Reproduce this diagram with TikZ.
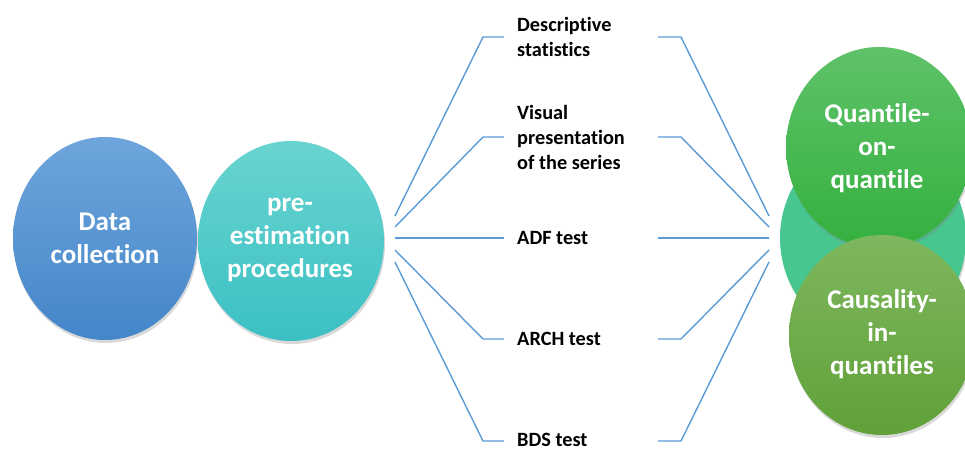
\documentclass[tikz,border=0pt]{standalone}
\usepackage{fontspec}
\setmainfont{Carlito}[Ligatures={NoCommon,NoDiscretionary,NoContextual}]
\usetikzlibrary{shapes.geometric,shadows}
\definecolor{lineblue}{HTML}{5B9BD5}
\definecolor{dcTop}{HTML}{6EA5DC}
\definecolor{dcBot}{HTML}{4486C9}
\definecolor{peTop}{HTML}{68D4D0}
\definecolor{peBot}{HTML}{3CC0C4}
\definecolor{midG}{HTML}{47C68F}
\definecolor{qTop}{HTML}{5FC269}
\definecolor{qBot}{HTML}{34B03E}
\definecolor{cTop}{HTML}{7EB75E}
\definecolor{cBot}{HTML}{60A138}
\tikzset{
  blob/.style={ellipse, inner sep=0pt, text=white, align=center,
    font=\bfseries\fontsize{27}{33}\selectfont,
    drop shadow={opacity=0.3, shadow xshift=1pt, shadow yshift=-3pt}},
  blobtext/.style={text=white, align=center, inner sep=0pt,
    font=\bfseries\fontsize{27}{33}\selectfont},
  lbl/.style={anchor=west, inner sep=0pt, align=left,
    font=\bfseries\fontsize{20.3}{25}\selectfont},
  conn/.style={draw=lineblue, line width=1.4pt}
}
\begin{document}
\begin{tikzpicture}[x=1pt,y=-1pt]
\useasboundingbox (0,0) rectangle (965,449);
\clip (0,0) rectangle (965,449);
% left ellipses
\node[blob, minimum width=184pt, minimum height=203pt, top color=dcTop, bottom color=dcBot] (dc) at (105,238.5) {};
\node[blob, minimum width=186pt, minimum height=200pt, top color=peTop, bottom color=peBot] (pe) at (291,241) {};
\node[blobtext] (dct) at (105,238.5) {Data\\collection};
\node[blobtext] (pet) at (290,240) {pre-\\estimation\\procedures};
% right ellipses
\node[blob, minimum width=186pt, minimum height=200pt, fill=midG] (mid) at (873,238) {};
\node[blob, minimum width=186pt, minimum height=201pt, top color=qTop, bottom color=qBot] (qq) at (879,147.5) {};
\node[blobtext] (qqt) at (877,148) {Quantile-\\on-\\quantile};
\node[blob, minimum width=186pt, minimum height=200pt, top color=cTop, bottom color=cBot] (cq) at (882,335) {};
\node[blobtext] (cqt) at (882,334) {Causality-\\in-\\quantiles};
% labels
\node[lbl] (t1) at (517,37) {Descriptive\\statistics};
\node[lbl] (t2) at (517,137) {Visual\\presentation\\of the series};
\node[lbl] (t3) at (517,238) {ADF test};
\node[lbl] (t4) at (517,339) {ARCH test};
\node[lbl] (t5) at (517,439.5) {BDS test};
% fan end points
\coordinate (l1) at (395,216);
\coordinate (l2) at (395,227);
\coordinate (l3) at (395,238);
\coordinate (l4) at (395,250);
\coordinate (l5) at (395,262);
\coordinate (r1) at (769,216);
\coordinate (r2) at (769,227);
\coordinate (r3) at (769,238);
\coordinate (r4) at (769,250);
\coordinate (r5) at (769,262);
\coordinate (h5l) at (483,441);
\coordinate (h5r) at (681,441);
\foreach \i in {1,2,4}{
  \draw[conn] (l\i) -- ([xshift=-34pt]t\i.west) -- ([xshift=-13pt]t\i.west);
  \draw[conn] ([xshift=141pt]t\i.west) -- ([xshift=164pt]t\i.west) -- (r\i);
}
\draw[conn] (l5) -- (h5l) -- ([xshift=21pt]h5l);
\draw[conn] ([xshift=-23pt]h5r) -- (h5r) -- (r5);
\draw[conn] (l3) -- ([xshift=-13pt]t3.west);
\draw[conn] ([xshift=141pt]t3.west) -- (r3);
\end{tikzpicture}
\end{document}
